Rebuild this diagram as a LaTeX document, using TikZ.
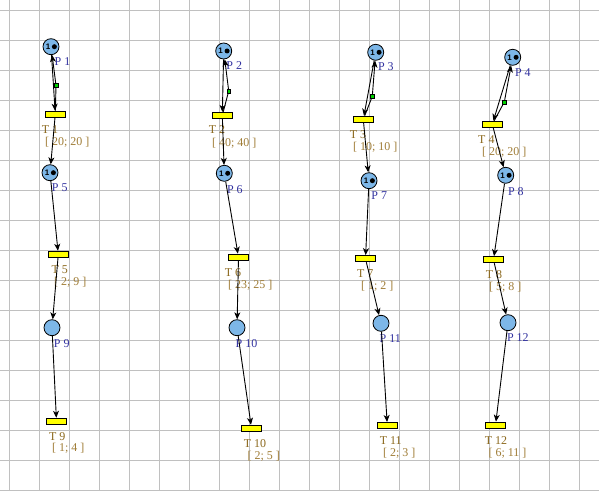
\documentclass[tikz,border=0pt]{standalone}
\usepackage{fontspec}
\setmainfont{Liberation Serif}
\newfontfamily\tokfont{Liberation Sans}
\usepackage{tikz}
\usetikzlibrary{arrows.meta,positioning}
\usepackage{xcolor}
\definecolor{placeblue}{RGB}{125,183,232}
\definecolor{transyellow}{RGB}{255,255,0}
\definecolor{handlegreen}{RGB}{0,210,0}
\definecolor{plabblue}{RGB}{50,50,160}
\definecolor{tlabbrown}{RGB}{140,105,30}
\definecolor{ilabbrown}{RGB}{160,125,55}
\definecolor{gridgray}{RGB}{192,192,192}

\begin{document}
\begin{tikzpicture}[
    x=1bp, y=-1bp,
    place/.style={circle, draw, line width=0.8bp, fill=placeblue, minimum size=16bp, inner sep=0pt},
    trans/.style={rectangle, draw, line width=0.8bp, fill=transyellow, minimum width=20.5bp, minimum height=6.3bp, inner sep=0pt},
    handle/.style={rectangle, draw, line width=0.5bp, fill=handlegreen, minimum size=3.8bp, inner sep=0pt},
    pnarc/.style={-{Stealth[length=7bp, width=6bp, inset=2bp]}, line width=0.9bp},
    plab/.style={anchor=west, inner sep=0pt, font=\fontsize{12}{12}\selectfont, text=plabblue},
    tlab/.style={anchor=west, inner sep=0pt, font=\fontsize{12}{12}\selectfont, text=tlabbrown},
    ilab/.style={anchor=west, inner sep=0pt, font=\fontsize{12}{12}\selectfont, text=ilabbrown},
    toknum/.style={inner sep=0pt, font=\tokfont\bfseries\fontsize{8}{8}\selectfont},
]
    \useasboundingbox (0,0) rectangle (599,491);
    \fill[white] (0,0) rectangle (599,491);
    % grid
    \foreach \i in {0,...,19} {
        \draw[gridgray, line width=0.8bp] ({9.3+30*\i},0) -- ({9.3+30*\i},491);
    }
    \foreach \j in {0,...,16} {
        \draw[gridgray, line width=0.8bp] (0,{10+30*\j}) -- (599,{10+30*\j});
    }
    % places
    \node[place] (P1) at (51,46.7) {};
    \node[place] (P2) at (223.7,51) {};
    \node[place] (P3) at (375.7,52.3) {};
    \node[place] (P4) at (512.7,57.3) {};
    \node[place] (P5) at (50,172.7) {};
    \node[place] (P6) at (224.3,173.3) {};
    \node[place] (P7) at (369,180.7) {};
    \node[place] (P8) at (505.7,175.3) {};
    \node[place] (P9) at (52,327.7) {};
    \node[place] (P10) at (237,327.7) {};
    \node[place] (P11) at (381,323.3) {};
    \node[place] (P12) at (508,322.7) {};
    % tokens
    \foreach \p in {P1,P2,P3,P4,P5,P6,P7,P8} {
        \node[toknum] at ([xshift=-3bp]\p.center) {1};
        \fill ([xshift=3.4bp]\p.center) circle (2.5bp);
    }
    % transitions
    \node[trans] (T1) at (55.3,114.2) {};
    \node[trans] (T2) at (222.3,115.5) {};
    \node[trans] (T3) at (363.3,119.3) {};
    \node[trans] (T4) at (492.3,124.3) {};
    \node[trans] (T5) at (58.3,254.3) {};
    \node[trans] (T6) at (238.5,257.2) {};
    \node[trans] (T7) at (365.5,258.7) {};
    \node[trans] (T8) at (493.5,259.7) {};
    \node[trans] (T9) at (56.5,421.3) {};
    \node[trans] (T10) at (251.5,428.3) {};
    \node[trans] (T11) at (387.3,425.5) {};
    \node[trans] (T12) at (495.5,425.2) {};
    % bend handles
    \node[handle] (h1) at (56,85.3) {};
    \node[handle] (h2) at (228.7,91) {};
    \node[handle] (h3) at (372.3,96.3) {};
    \node[handle] (h4) at (504.3,102) {};
    % place labels
    \node[plab] (lP1) at (54.5,61.7) {P 1};
    \node[plab] (lP2) at (226.2,65.7) {P 2};
    \node[plab] (lP3) at (377.8,66.7) {P 3};
    \node[plab] (lP4) at (514.8,72.3) {P 4};
    \node[plab] (lP5) at (51.8,187.3) {P 5};
    \node[plab] (lP6) at (226.8,189.3) {P 6};
    \node[plab] (lP7) at (371.2,196) {P 7};
    \node[plab] (lP8) at (507.8,191.3) {P 8};
    \node[plab] (lP9) at (53.8,343.3) {P 9};
    \node[plab] (lP10) at (235.5,343.3) {P 10};
    \node[plab] (lP11) at (379.5,338.3) {P 11};
    \node[plab] (lP12) at (506.8,337.3) {P 12};
    % transition labels
    \node[tlab] (lT1) at (41.7,130) {T 1};
    \node[tlab] (lT2) at (208.7,130) {T 2};
    \node[tlab] (lT3) at (349.7,135) {T 3};
    \node[tlab] (lT4) at (478,139.3) {T 4};
    \node[tlab] (lT5) at (51.4,270) {T 5};
    \node[tlab] (lT6) at (224.7,272.7) {T 6};
    \node[tlab] (lT7) at (357,274) {T 7};
    \node[tlab] (lT8) at (485.7,275) {T 8};
    \node[tlab] (lT9) at (49,437) {T 9};
    \node[tlab] (lT10) at (243.7,443.3) {T 10};
    \node[tlab] (lT11) at (379.7,440.7) {T 11};
    \node[tlab] (lT12) at (484.7,440.7) {T 12};
    % firing intervals
    \node[ilab] (iT1) at (45,142.7) {[ 20; 20 ]};
    \node[ilab] (iT2) at (212,143.3) {[ 40; 40 ]};
    \node[ilab] (iT3) at (353,147.3) {[ 10; 10 ]};
    \node[ilab] (iT4) at (482,152.3) {[ 20; 20 ]};
    \node[ilab] (iT5) at (54,282.3) {[ 2; 9 ]};
    \node[ilab] (iT6) at (228,285.3) {[ 23; 25 ]};
    \node[ilab] (iT7) at (361,286.7) {[ 1; 2 ]};
    \node[ilab] (iT8) at (489,287.3) {[ 5; 8 ]};
    \node[ilab] (iT9) at (52,448.7) {[ 1; 4 ]};
    \node[ilab] (iT10) at (247.4,456) {[ 2; 5 ]};
    \node[ilab] (iT11) at (383,453.3) {[ 2; 3 ]};
    \node[ilab] (iT12) at (488.4,453.3) {[ 6; 11 ]};
    % arcs
    \foreach \a/\b/\c in {1/5/9, 2/6/10, 3/7/11, 4/8/12} {
        \draw[pnarc] (P\a) -- (T\a);
        \draw[pnarc] (T\a) -- (h\a) -- (P\a);
        \draw[pnarc] (T\a) -- (P\b);
        \draw[pnarc] (P\b) -- (T\b);
        \draw[pnarc] (T\b) -- (P\c);
        \draw[pnarc] (P\c) -- (T\c);
    }
\end{tikzpicture}
\end{document}
